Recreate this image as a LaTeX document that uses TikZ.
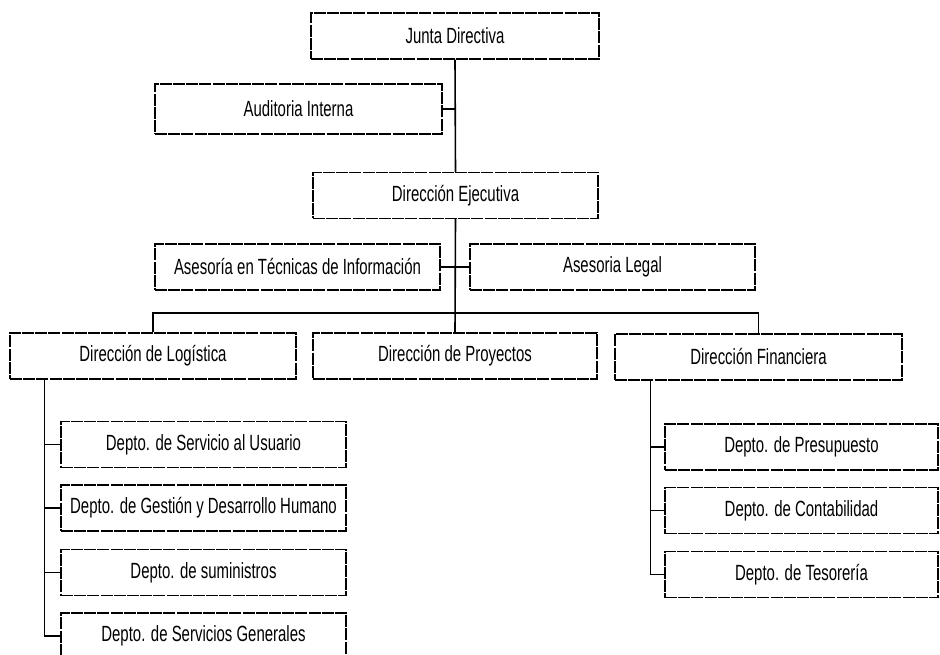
\documentclass[tikz,border=0pt]{standalone}
\usepackage{fontspec}
\setmainfont{Liberation Sans}[FakeStretch=0.68]
\begin{document}
\begin{tikzpicture}[x=1pt,y=-1pt,
  box/.style={draw=black, line width=1.2pt, dash pattern=on 12pt off 1.2pt,
    minimum width=285pt, minimum height=46pt, inner sep=0pt,
    font=\fontsize{22}{26}\selectfont},
  rbox/.style={box, minimum width=273pt},
  conn/.style={draw=black, line width=1.6pt}]
\useasboundingbox (0,0) rectangle (940,655);
\fill[white] (0,0) rectangle (940,655);
% level 1
\node[box, minimum width=288pt] (junta) at (455,36) {Junta Directiva};
\node[box, minimum width=287pt, minimum height=50pt] (audit) at (298.5,109) {Auditoria Interna};
\node[box] (ejec) at (455.5,195.5) {Dirección Ejecutiva};
\node[box] (tec) at (297.5,267) {Asesoría en Técnicas de Información};
\node[box] (legal) at (612.5,267) {Asesoria Legal};
% level 3
\node[box, minimum width=286pt] (log) at (153,356) {Dirección de Logística};
\node[box, minimum width=284pt] (proy) at (455,356) {Dirección de Proyectos};
\node[box, minimum width=287pt] (fin) at (758.5,357) {Dirección Financiera};
% left departments
\node[box] (srv) at (203.5,444.5) {Depto. de Servicio al Usuario};
\node[box] (ges) at (203.5,508) {Depto. de Gestión y Desarrollo Humano};
\node[box] (sum) at (203.5,572.5) {Depto. de suministros};
\node[box] (gen) at (203.5,636) {Depto. de Servicios Generales};
% right departments
\node[rbox] (pre) at (801.5,447) {Depto. de Presupuesto};
\node[rbox] (con) at (801.5,510.5) {Depto. de Contabilidad};
\node[rbox] (tes) at (801.5,574.5) {Depto. de Tesorería};
% connectors
\coordinate (bus) at (455,313);
\draw[conn] (junta.south) -- (ejec.north);
\draw[conn] (ejec.south) -- (proy.north);
\draw[conn] (audit.east) -- (audit.east -| junta.south);
\draw[conn] (tec.east) -- (legal.west);
\draw[conn] (log.north) |- (bus) -| (fin.north);
\coordinate (lv) at ([xshift=35pt]log.south west);
\draw[conn] (lv) |- (gen.west);
\draw[conn] (srv.west) -- (srv.west -| lv);
\draw[conn] (ges.west) -- (ges.west -| lv);
\draw[conn] (sum.west) -- (sum.west -| lv);
\coordinate (rv) at ([xshift=36pt]fin.south west);
\draw[conn] (rv) |- (tes.west);
\draw[conn] (pre.west) -- (pre.west -| rv);
\draw[conn] (con.west) -- (con.west -| rv);
\end{tikzpicture}
\end{document}
